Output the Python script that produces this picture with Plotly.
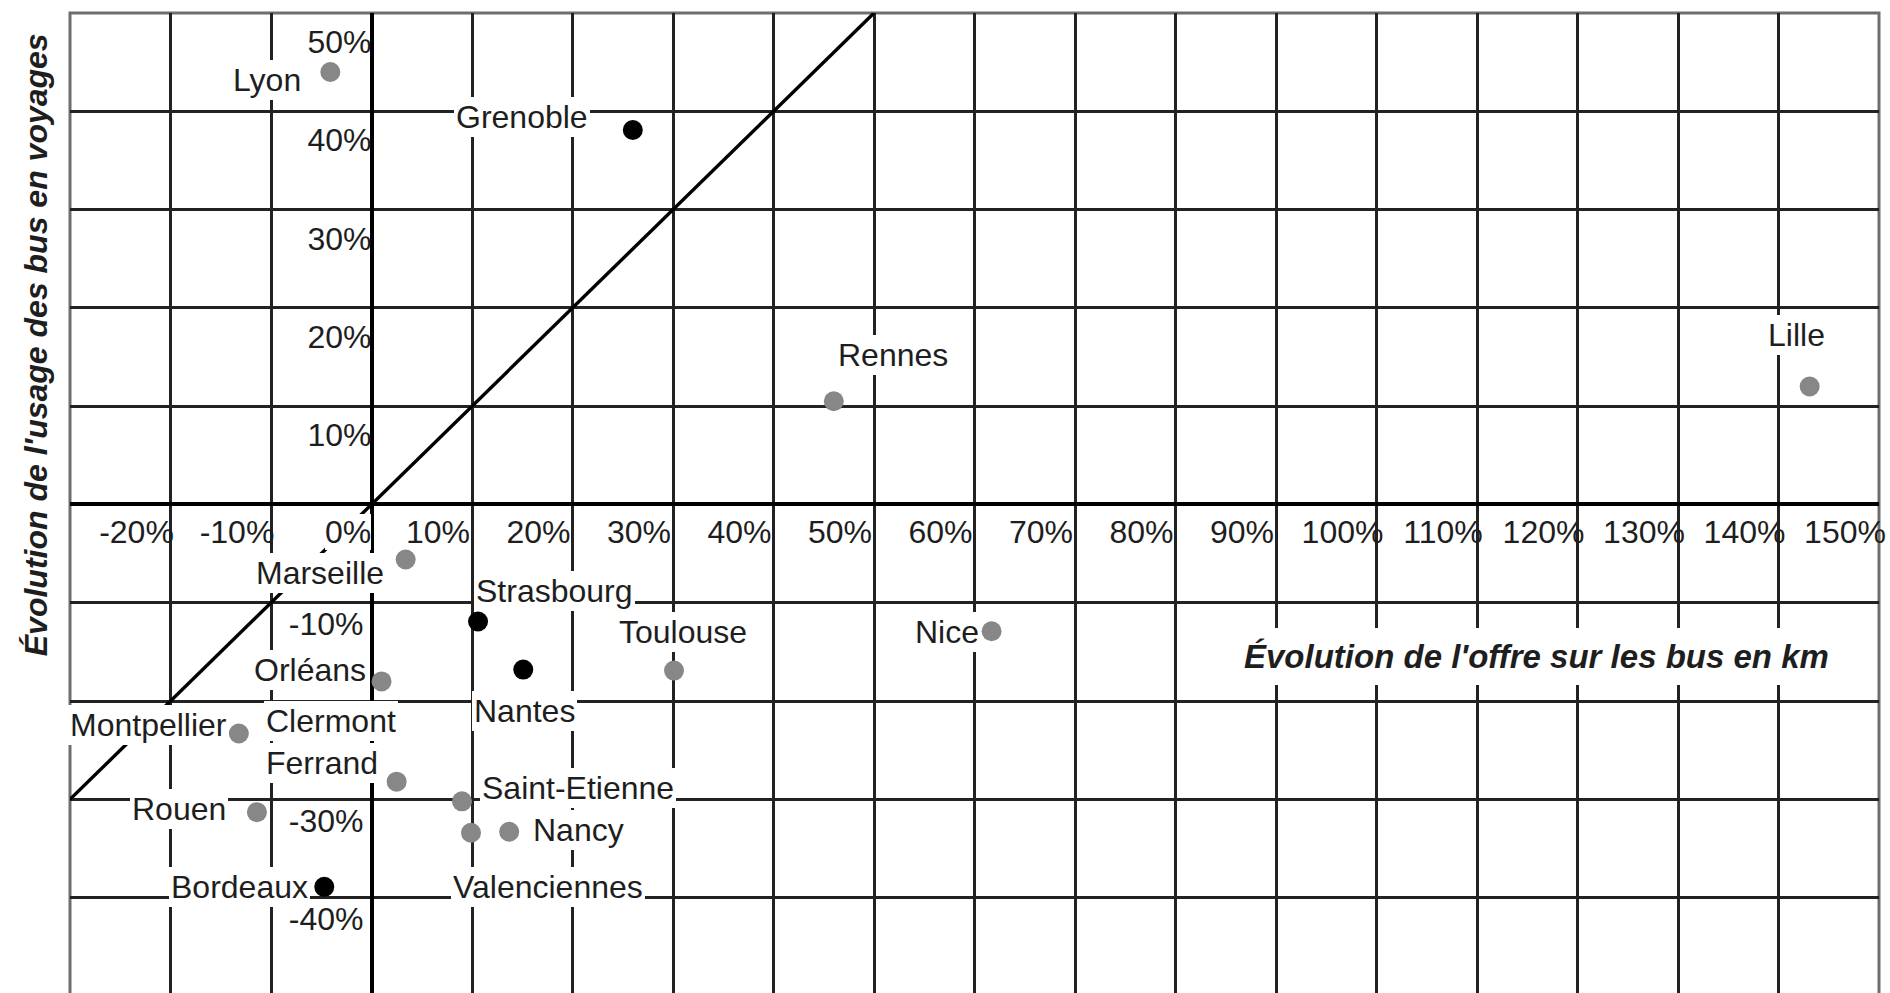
import plotly.graph_objects as go

# Change in bus supply (km) vs change in bus ridership (trips), in %
cities = ["Lyon", "Grenoble", "Rennes", "Lille", "Marseille", "Strasbourg", "Nantes",
          "Toulouse", "Nice", "Orléans", "Montpellier", "Clermont Ferrand",
          "Saint-Etienne", "Rouen", "Valenciennes", "Nancy", "Bordeaux"]
offer_km = [-4.1, 26.0, 46.0, 143.1, 3.4, 10.6, 15.1, 30.1, 61.7, 1.0,
            -13.2, 2.5, 9.0, -11.4, 9.9, 13.7, -4.7]
usage_trips = [44.0, 38.1, 10.5, 12.0, -5.6, -11.9, -16.8, -16.9, -12.9, -18.0,
               -23.3, -28.2, -30.2, -31.3, -33.4, -33.3, -38.9]
highlighted = ["Grenoble", "Strasbourg", "Nantes", "Bordeaux"]

x_ticks = list(range(-20, 151, 10))
y_ticks_pos = [10, 20, 30, 40, 50]
y_ticks_neg = [-40, -30, -10]
parity = [-30, 50]  # y = x reference line

X_RANGE = [-30, 150]
Y_RANGE = [-49.7, 50]

FONT = "Liberation Sans, Arial, Helvetica, sans-serif"
TEXT = "#1e1e1e"
GRAY_DOT = "#878787"
LINE_H = 42  # px between stacked label lines

# label placement around each point: (lines, xanchor, x offset px, y offset px)
label_layout = {
    "Lyon": (["Lyon"], "right", -27, -8),
    "Grenoble": (["Grenoble"], "right", -43, 13),
    "Rennes": (["Rennes"], "left", 2, 46),
    "Lille": (["Lille"], "center", -13, 52),
    "Marseille": (["Marseille"], "right", -20, -13),
    "Strasbourg": (["Strasbourg"], "left", -4, 30),
    "Nantes": (["Nantes"], "left", -51, -41),
    "Toulouse": (["Toulouse"], "center", 9, 39),
    "Nice": (["Nice"], "right", -11, -1),
    "Orléans": (["Orléans"], "right", -14, 11),
    "Montpellier": (["Montpellier"], "right", -10, 9),
    "Clermont Ferrand": (["Clermont", "Ferrand"], "left", -133, 40),
    "Saint-Etienne": (["Saint-Etienne"], "left", 18, 13),
    "Rouen": (["Rouen"], "right", -29, 3),
    "Valenciennes": (["Valenciennes"], "left", -20, -54),
    "Nancy": (["Nancy"], "left", 22, 2),
    "Bordeaux": (["Bordeaux"], "right", -14, 0),
}

fig = go.Figure()

fig.add_trace(go.Scatter(
    x=parity, y=parity, mode="lines",
    line=dict(color="black", width=3.4),
    hoverinfo="skip", showlegend=False,
))

colors = ["black" if c in highlighted else GRAY_DOT for c in cities]
fig.add_trace(go.Scatter(
    x=offer_km, y=usage_trips, mode="markers",
    marker=dict(size=20, color=colors, line=dict(width=0)),
    text=cities, hoverinfo="text", showlegend=False,
))

# empty trace that carries the second (negative-tick) y axis
fig.add_trace(go.Scatter(x=[None], y=[None], yaxis="y2", mode="markers",
                         hoverinfo="skip", showlegend=False))

annotations = []
for name, xv, yv in zip(cities, offer_km, usage_trips):
    lines, anchor, dx, dy = label_layout[name]
    n = len(lines)
    for i, line in enumerate(lines):
        annotations.append(dict(
            x=xv, y=yv, xref="x", yref="y", text=line, showarrow=False,
            xanchor=anchor, yanchor="middle", xshift=dx,
            yshift=dy + (n - 1) / 2 * LINE_H - i * LINE_H,
            align="left", bgcolor="white", borderpad=2, borderwidth=0,
            font=dict(family=FONT, size=32, color=TEXT),
        ))

# origin label shared by both axes
annotations.append(dict(
    x=0, y=0, xref="x", yref="y", text="0%", showarrow=False,
    xanchor="right", yanchor="middle", xshift=-1, yshift=-28,
    bgcolor="white", borderpad=0, borderwidth=0,
    font=dict(family=FONT, size=32, color=TEXT),
))

# axis titles
annotations.append(dict(
    x=115.9, y=-15.5, xref="x", yref="y",
    text="<b><i>Évolution de l'offre sur les bus en km</i></b>",
    showarrow=False, xanchor="center", yanchor="middle",
    bgcolor="white", borderpad=10, borderwidth=0,
    font=dict(family=FONT, size=33, color=TEXT),
))
annotations.append(dict(
    x=-0.0188, y=0.662, xref="paper", yref="paper",
    text="<b><i>Évolution de l'usage des bus en voyages</i></b>",
    showarrow=False, textangle=-90, xanchor="center", yanchor="middle",
    font=dict(family=FONT, size=32, color=TEXT),
))

x_zero_pos = (0 - X_RANGE[0]) / (X_RANGE[1] - X_RANGE[0])
y_zero_pos = (0 - Y_RANGE[0]) / (Y_RANGE[1] - Y_RANGE[0])
tick_font = dict(family=FONT, size=32, color=TEXT)

fig.update_layout(
    template="none",
    width=1890, height=993,
    margin=dict(l=70, r=11, t=13, b=0, pad=0),
    paper_bgcolor="white", plot_bgcolor="white",
    showlegend=False,
    annotations=annotations,
    shapes=[dict(type="rect", xref="paper", yref="paper",
                 x0=0, x1=1, y0=-0.02, y1=1,
                 line=dict(color="#6e6e6e", width=3), layer="below")],
    xaxis=dict(
        range=X_RANGE, anchor="free", position=y_zero_pos,
        tickvals=x_ticks,
        ticktext=["" if v == 0 else f"{v}%" for v in x_ticks],
        ticks="", showline=False,
        showgrid=True, gridcolor="#222222", gridwidth=2.6,
        zeroline=True, zerolinecolor="black", zerolinewidth=4,
        tickfont=tick_font,
        ticklabelshift=-34, ticklabelstandoff=6,
        automargin=False, fixedrange=True,
    ),
    yaxis=dict(
        range=Y_RANGE, anchor="free", position=x_zero_pos,
        tickvals=y_ticks_neg[:2] + [-20, 0, -10] + y_ticks_pos,
        ticktext=["", "", "", "", ""] + [f"{v}%" for v in y_ticks_pos],
        ticks="", showline=False,
        showgrid=True, gridcolor="#222222", gridwidth=2.6,
        zeroline=True, zerolinecolor="black", zerolinewidth=4,
        tickfont=tick_font,
        ticklabelshift=29, ticklabelstandoff=0,
        automargin=False, fixedrange=True,
    ),
    yaxis2=dict(
        range=Y_RANGE, overlaying="y", anchor="free", position=x_zero_pos,
        side="left",
        tickvals=y_ticks_neg,
        ticktext=[f"{v}%" for v in y_ticks_neg],
        ticks="", showline=False, showgrid=False, zeroline=False,
        tickfont=tick_font,
        ticklabelshift=21, ticklabelstandoff=8,
        automargin=False, fixedrange=True,
    ),
)

fig.write_html("out.html", config={"displayModeBar": False})
